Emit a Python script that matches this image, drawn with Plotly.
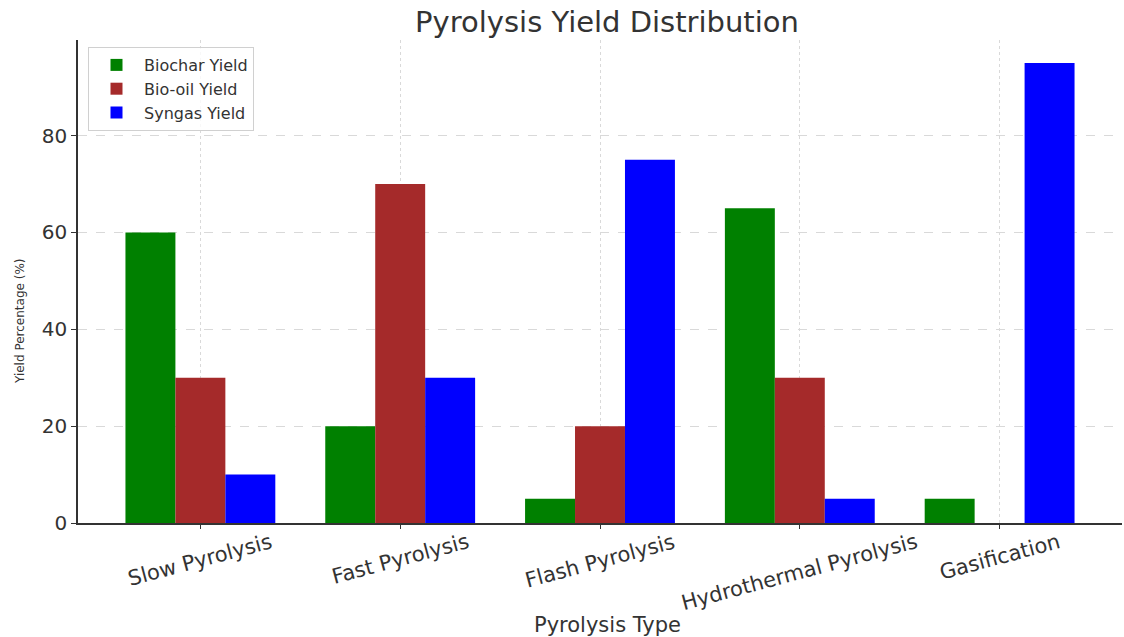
import plotly.graph_objects as go

categories = ["Slow Pyrolysis", "Fast Pyrolysis", "Flash Pyrolysis", "Hydrothermal Pyrolysis", "Gasification"]
biochar = [60, 20, 5, 65, 5]
biooil = [30, 70, 20, 30, 0]
syngas = [10, 30, 75, 5, 95]

series = [
    ("Biochar Yield", biochar, "green"),
    ("Bio-oil Yield", biooil, "brown"),
    ("Syngas Yield", syngas, "blue"),
]

fig = go.Figure()
for name, vals, color in series:
    fig.add_trace(go.Bar(x=categories, y=vals, name=name, marker=dict(color=color, line=dict(width=0))))

font_color = "#333333"
W, H = 1124, 637
L, R, T, B = 78, 2, 40, 114

# rotated, centred category labels (as in the reference)
for c in categories:
    fig.add_annotation(x=c, y=0, xref="x", yref="paper", yanchor="top", xanchor="center",
                       yshift=-4, text=c, textangle=-15, showarrow=False,
                       font=dict(size=21, color=font_color))

fig.add_annotation(x=(607 - L) / (W - L - R), y=-(625 - (H - B)) / (H - T - B), xref="paper", yref="paper",
                   xanchor="center", yanchor="middle", text="Pyrolysis Type", showarrow=False,
                   font=dict(size=21, color=font_color))
fig.add_annotation(x=-(L - 20) / (W - L - R), y=((H - B) - 322) / (H - T - B), xref="paper", yref="paper",
                   xanchor="center", yanchor="middle", text="Yield Percentage (%)", textangle=-90,
                   showarrow=False, font=dict(size=12, color=font_color))

fig.update_layout(
    width=W, height=H,
    margin=dict(l=L, r=R, t=T, b=B),
    paper_bgcolor="white", plot_bgcolor="white",
    barmode="group", bargap=0.25, bargroupgap=0,
    font=dict(family="DejaVu Sans", color=font_color, size=16),
    title=dict(text="Pyrolysis Yield Distribution", x=607 / W, xanchor="center", y=1 - 22 / H, yanchor="middle",
               font=dict(size=29, color=font_color)),
    legend=dict(x=(88 - L) / (W - L - R), y=((H - B) - 47) / (H - T - B), xanchor="left", yanchor="top",
                bgcolor="rgba(255,255,255,0.8)",
                bordercolor="#d0d0d0", borderwidth=1, font=dict(size=16, color=font_color),
                itemwidth=45, tracegroupgap=0),
    xaxis=dict(range=[-0.6125, 4.6125], showticklabels=False, showgrid=True, gridcolor="#d9d9d9",
               griddash="dot", gridwidth=1, showline=True, linecolor="#333333", linewidth=1.5,
               ticks="outside", ticklen=4, tickcolor="#333333", automargin=False),
    yaxis=dict(range=[0, 99.75], tickvals=[0, 20, 40, 60, 80], showgrid=True, gridcolor="#d9d9d9",
               griddash="dash", gridwidth=1, showline=True, linecolor="#333333", linewidth=1.5,
               ticks="outside", ticklen=5, tickcolor="#333333", tickfont=dict(size=20), zeroline=False,
               automargin=False),
)

fig.write_html(
    "out.html",
    config={"displayModeBar": False},
    post_script="document.body.style.margin='0';document.documentElement.style.overflow='hidden';document.body.style.overflow='hidden';",
)
